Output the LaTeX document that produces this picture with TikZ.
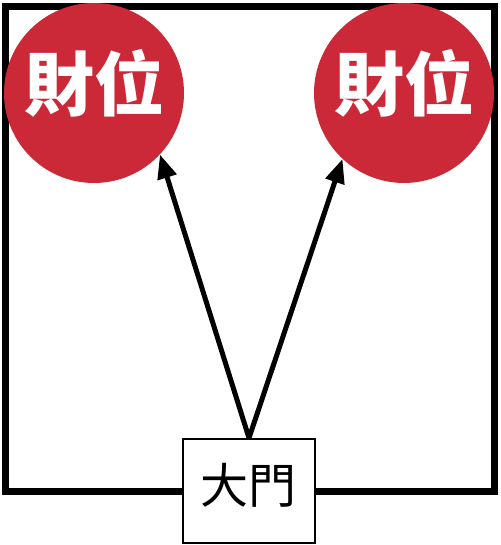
\documentclass[tikz,border=0pt]{standalone}
\usepackage{fontspec}
\newfontfamily\cjk{Noto Sans CJK TC}
\usetikzlibrary{arrows.meta}
\definecolor{luckred}{RGB}{204,41,56}

\begin{document}
\begin{tikzpicture}[x=1pt,y=-1pt,
	spot/.style={circle,fill=luckred,minimum size=180pt,inner sep=0pt},
	spottext/.style={text=white,font=\cjk\bfseries\fontsize{70}{70}\selectfont},
	gate/.style={draw,line width=2pt,fill=white,minimum width=132pt,minimum height=104pt,inner sep=0pt},
	path/.style={line width=5pt,-{Triangle[length=24pt,width=19pt]}}]
	\useasboundingbox (0,0) rectangle (500,545);
	\draw[line width=7pt](5,7) rectangle (494,491);
	\node[spot](wealthL) at (94,93){};
	\node[spot](wealthR) at (404,93){};
	\node[spottext] at (94,83){財位};
	\node[spottext] at (404,83){財位};
	\node[gate](door) at (249,491){};
	\node[font=\cjk\fontsize{48}{48}\selectfont] at (248,485){大門};
	\draw[path](door.north)-- (wealthL.-43);
	\draw[path](door.north)-- (wealthR.-133);
\end{tikzpicture}
\end{document}
